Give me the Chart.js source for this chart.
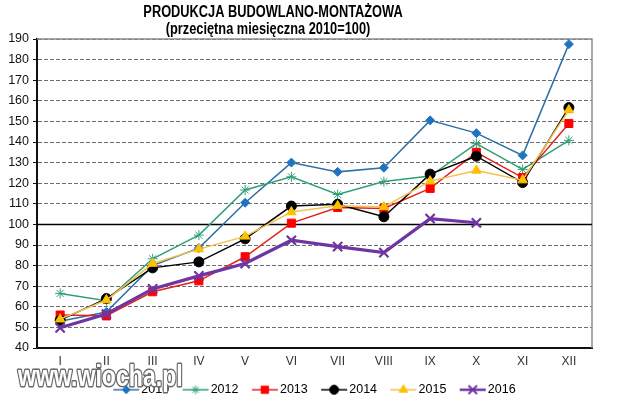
<!DOCTYPE html>
<html>
<head>
<meta charset="utf-8">
<script src="https://cdn.jsdelivr.net/npm/chart.js@4.4.1/dist/chart.umd.min.js"></script>
<style>
  html, body { margin: 0; background: #fff; }
  #wrap { width: 620px; height: 402px; }
</style>
</head>
<body>
<div id="wrap"><canvas id="chart"></canvas></div>
<script>
// months and yearly series (average month of 2010 = 100)
const months = ['I', 'II', 'III', 'IV', 'V', 'VI', 'VII', 'VIII', 'IX', 'X', 'XI', 'XII'];
const years = ['2010', '2012', '2013', '2014', '2015', '2016'];
const v2010 = [53, 57.5, 80, 88.5, 110.5, 130, 125.5, 127.5, 150.5, 144.3, 133.5, 187.5];
const v2012 = [66.5, 63, 83.3, 94.8, 116.7, 123.1, 114.5, 120.8, 123.5, 139.2, 126.7, 140.8];
const v2013 = [56, 55.6, 67.3, 72.6, 84.3, 100.6, 108.2, 107.7, 117.5, 135, 122.7, 149];
const v2014 = [53.5, 64, 78.9, 81.8, 93, 108.9, 109.8, 103.7, 124.4, 133.1, 120.3, 156.7];
const v2015 = [54, 63.3, 81, 88, 94.2, 106, 109, 108.5, 121, 126.2, 121.5, 155.5];
const v2016 = [49.8, 56.5, 68.7, 75, 81, 92.3, 89.2, 86.3, 102.8, 100.8, null, null];
const yTicks = [40, 50, 60, 70, 80, 90, 100, 110, 120, 130, 140, 150, 160, 170, 180, 190];
const baseLine = 100;

const titleLines = ['PRODUKCJA BUDOWLANO-MONTAŻOWA', '(przeciętna miesięczna 2010=100)'];

const FONT = '"Liberation Sans", Arial, sans-serif';

// styles per series
const lineColors = ['#2f6fa8', '#2fa074', '#e2231d', '#000000', '#f1c24c', '#6f35a0'];
const markColors = ['#1f74c0', '#2fa074', '#ff0000', '#000000', '#ffc000', '#6f35a0'];
const markStyles = ['rectRot', 'star', 'rect', 'circle', 'triangle', 'crossRot'];
const markRadius = [4.5, 5, 5.7, 5, 5.5, 6.5];
const lineWidths = [1.5, 1.5, 1.5, 1.5, 1.5, 3.2];

const series = [v2010, v2012, v2013, v2014, v2015, v2016];

function legendIcon(i) {
    const c = document.createElement('canvas');
    c.width = 32;
    c.height = 14;
    const g = c.getContext('2d');
    g.strokeStyle = lineColors[i];
    g.lineWidth = Math.min(lineWidths[i], 2.5);
    g.beginPath();
    g.moveTo(5, 7);
    g.lineTo(31, 7);
    g.stroke();
    g.fillStyle = markColors[i];
    g.strokeStyle = markColors[i];
    g.lineWidth = i === 5 ? 2 : 1;
    Chart.helpers.drawPoint(g, { pointStyle: markStyles[i], radius: markRadius[i] - 0.5, rotation: 0, borderWidth: g.lineWidth }, 18, 7);
    return c;
}

const datasets = years.map((y, i) => ({
    label: y,
    data: series[i],
    borderColor: lineColors[i],
    borderWidth: lineWidths[i],
    pointStyle: markStyles[i],
    pointRadius: markRadius[i],
    pointBackgroundColor: markColors[i],
    pointBorderColor: markColors[i],
    pointBorderWidth: i === 5 ? 2.2 : 1,
    tension: 0,
    spanGaps: false,
    order: years.length - i
}));

const decor = {
    id: 'decor',
    beforeDatasetsDraw(chart) {
        const { ctx, chartArea: a, scales: { y } } = chart;
        ctx.save();
        // grey frame top/right
        ctx.strokeStyle = '#8c8c8c';
        ctx.lineWidth = 1.5;
        ctx.beginPath();
        ctx.moveTo(a.left, a.top);
        ctx.lineTo(a.right, a.top);
        ctx.lineTo(a.right, a.bottom);
        ctx.stroke();
        // reference line at 100
        const yp = Math.round(y.getPixelForValue(baseLine)) + 0.5;
        ctx.strokeStyle = '#000';
        ctx.lineWidth = 1.6;
        ctx.beginPath();
        ctx.moveTo(a.left, yp);
        ctx.lineTo(a.right, yp);
        ctx.stroke();
        ctx.restore();
    },
    afterDraw(chart) {
        const ctx = chart.ctx;
        ctx.save();
        // title
        ctx.fillStyle = '#000';
        ctx.textAlign = 'center';
        ctx.textBaseline = 'middle';
        ctx.font = 'bold 16px ' + FONT;
        ctx.translate(273, 13);
        ctx.scale(0.8, 1);
        ctx.fillText(titleLines[0], 0, 0);
        ctx.setTransform(1, 0, 0, 1, 0, 0);
        ctx.scale(chart.currentDevicePixelRatio, chart.currentDevicePixelRatio);
        ctx.translate(268, 30);
        ctx.scale(0.8, 1);
        ctx.fillText(titleLines[1], 0, 0);
        ctx.restore();

        // site watermark
        ctx.save();
        ctx.translate(18, 386);
        ctx.scale(0.77, 1);
        ctx.font = 'bold 30px ' + FONT;
        ctx.textBaseline = 'alphabetic';
        ctx.lineJoin = 'round';
        ctx.strokeStyle = '#6a6a6a';
        ctx.lineWidth = 3;
        ctx.strokeText('www.wiocha.pl', 0, 0);
        ctx.fillStyle = '#fff';
        ctx.fillText('www.wiocha.pl', 0, 0);
        ctx.restore();
    }
};

new Chart(document.getElementById('chart'), {
    type: 'line',
    data: { labels: months, datasets: datasets },
    plugins: [decor],
    options: {
        responsive: true,
        maintainAspectRatio: false,
        animation: false,
        layout: { padding: { top: 39, right: 28, bottom: 0, left: 0 } },
        plugins: {
            title: { display: false },
            tooltip: { enabled: false },
            legend: {
                position: 'bottom',
                fullSize: false,
                maxHeight: 32,
                labels: {
                    usePointStyle: true,
                    pointStyleWidth: 21.75,
                    padding: 13.5,
                    color: '#000',
                    font: { family: FONT, size: 12.5 },
                    generateLabels(chart) {
                        return chart.data.datasets.map((ds, i) => ({
                            text: ds.label,
                            pointStyle: legendIcon(i),
                            fillStyle: markColors[i],
                            strokeStyle: lineColors[i],
                            lineWidth: 0,
                            hidden: false,
                            datasetIndex: i
                        }));
                    }
                }
            }
        },
        scales: {
            x: {
                offset: true,
                grid: { display: false, drawTicks: false },
                border: { display: true, color: '#111', width: 2 },
                ticks: { color: '#333', font: { family: FONT, size: 12 }, padding: 6, maxRotation: 0, autoSkip: false },
                afterFit(s) { s.height = 22; }
            },
            y: {
                min: yTicks[0],
                max: yTicks[yTicks.length - 1],
                afterBuildTicks(s) { s.ticks = yTicks.map(v => ({ value: v })); },
                grid: {
                    color: '#6e6e6e',
                    lineWidth: 1,
                    drawTicks: true,
                    tickLength: 4,
                    tickColor: '#111',
                    tickWidth: 1
                },
                border: { display: true, color: '#111', width: 2, dash: [4, 2] },
                ticks: { color: '#111', font: { family: FONT, size: 12.5 }, padding: 4 },
                afterFit(s) { s.width = 37; }
            }
        }
    }
});
</script>
</body>
</html>
